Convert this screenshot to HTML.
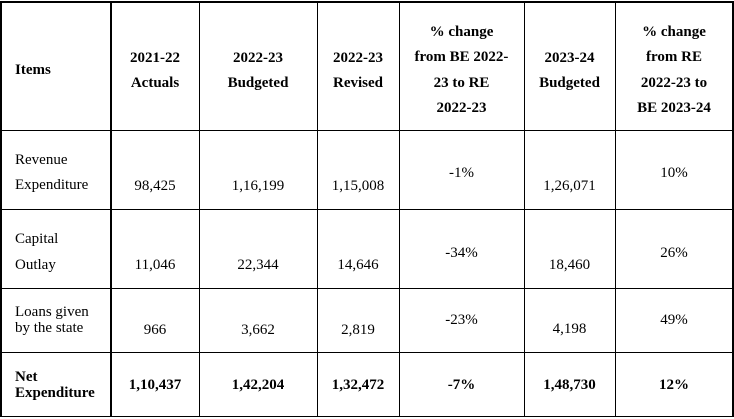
<!DOCTYPE html>
<html><head><meta charset="utf-8"><style>
body{margin:0;width:734px;height:419px;background:#fff;position:relative;overflow:hidden;font-family:"Liberation Serif","Times New Roman",Times,"DejaVu Serif","Noto Serif CJK SC",serif;font-size:15px;color:#000}
.h{position:absolute;height:1.5px;background:#000;left:0;width:734px}
.v{position:absolute;width:1.5px;background:#000;top:1px;height:416px}
.t{position:absolute;line-height:20px;height:20px;white-space:nowrap}
.b{font-weight:bold}
.c{text-align:center}
</style></head><body>
<div class="h" style="top:1px"></div>
<div class="h" style="top:129.5px"></div>
<div class="h" style="top:208.5px"></div>
<div class="h" style="top:287.5px"></div>
<div class="h" style="top:351.5px"></div>
<div class="h" style="top:415.5px"></div>
<div class="v" style="left:0"></div>
<div class="v" style="left:110px"></div>
<div class="v" style="left:198.5px"></div>
<div class="v" style="left:316.5px"></div>
<div class="v" style="left:398.5px"></div>
<div class="v" style="left:523.5px"></div>
<div class="v" style="left:614.5px"></div>
<div class="v" style="left:732px"></div>

<div class="t b" style="left:15px;top:60px">Items</div>
<div class="t b c" style="left:111px;width:88px;top:48px">2021-22</div>
<div class="t b c" style="left:111px;width:88px;top:73px">Actuals</div>
<div class="t b c" style="left:199px;width:118px;top:48px">2022-23</div>
<div class="t b c" style="left:199px;width:118px;top:73px">Budgeted</div>
<div class="t b c" style="left:317px;width:82px;top:48px">2022-23</div>
<div class="t b c" style="left:317px;width:82px;top:73px">Revised</div>
<div class="t b c" style="left:399px;width:125px;top:22px">% change</div>
<div class="t b c" style="left:399px;width:125px;top:47px">from BE 2022-</div>
<div class="t b c" style="left:399px;width:125px;top:73px">23 to RE</div>
<div class="t b c" style="left:399px;width:125px;top:98px">2022-23</div>
<div class="t b c" style="left:524px;width:91px;top:48px">2023-24</div>
<div class="t b c" style="left:524px;width:91px;top:73px">Budgeted</div>
<div class="t b c" style="left:615px;width:118px;top:22px">% change</div>
<div class="t b c" style="left:615px;width:118px;top:47px">from RE</div>
<div class="t b c" style="left:615px;width:118px;top:73px">2022-23 to</div>
<div class="t b c" style="left:615px;width:118px;top:98px">BE 2023-24</div>

<div class="t" style="left:15px;top:150px">Revenue</div>
<div class="t" style="left:15px;top:175px">Expenditure</div>
<div class="t c" style="left:111px;width:88px;top:176px">98,425</div>
<div class="t c" style="left:199px;width:118px;top:176px">1,16,199</div>
<div class="t c" style="left:317px;width:82px;top:176px">1,15,008</div>
<div class="t c" style="left:399px;width:125px;top:163px">-1%</div>
<div class="t c" style="left:524px;width:91px;top:176px">1,26,071</div>
<div class="t c" style="left:615px;width:118px;top:163px">10%</div>

<div class="t" style="left:15px;top:229px">Capital</div>
<div class="t" style="left:15px;top:255px">Outlay</div>
<div class="t c" style="left:111px;width:88px;top:255px">11,046</div>
<div class="t c" style="left:199px;width:118px;top:255px">22,344</div>
<div class="t c" style="left:317px;width:82px;top:255px">14,646</div>
<div class="t c" style="left:399px;width:125px;top:243px">-34%</div>
<div class="t c" style="left:524px;width:91px;top:255px">18,460</div>
<div class="t c" style="left:615px;width:118px;top:243px">26%</div>

<div class="t" style="left:15px;top:302px">Loans given</div>
<div class="t" style="left:15px;top:318px">by the state</div>
<div class="t c" style="left:111px;width:88px;top:320px">966</div>
<div class="t c" style="left:199px;width:118px;top:320px">3,662</div>
<div class="t c" style="left:317px;width:82px;top:320px">2,819</div>
<div class="t c" style="left:399px;width:125px;top:310px">-23%</div>
<div class="t c" style="left:524px;width:91px;top:319px">4,198</div>
<div class="t c" style="left:615px;width:118px;top:310px">49%</div>

<div class="t b" style="left:15px;top:367px">Net</div>
<div class="t b" style="left:15px;top:383px">Expenditure</div>
<div class="t b c" style="left:111px;width:88px;top:375px">1,10,437</div>
<div class="t b c" style="left:199px;width:118px;top:375px">1,42,204</div>
<div class="t b c" style="left:317px;width:82px;top:375px">1,32,472</div>
<div class="t b c" style="left:399px;width:125px;top:375px">-7%</div>
<div class="t b c" style="left:524px;width:91px;top:375px">1,48,730</div>
<div class="t b c" style="left:615px;width:118px;top:375px">12%</div>
</body></html>
